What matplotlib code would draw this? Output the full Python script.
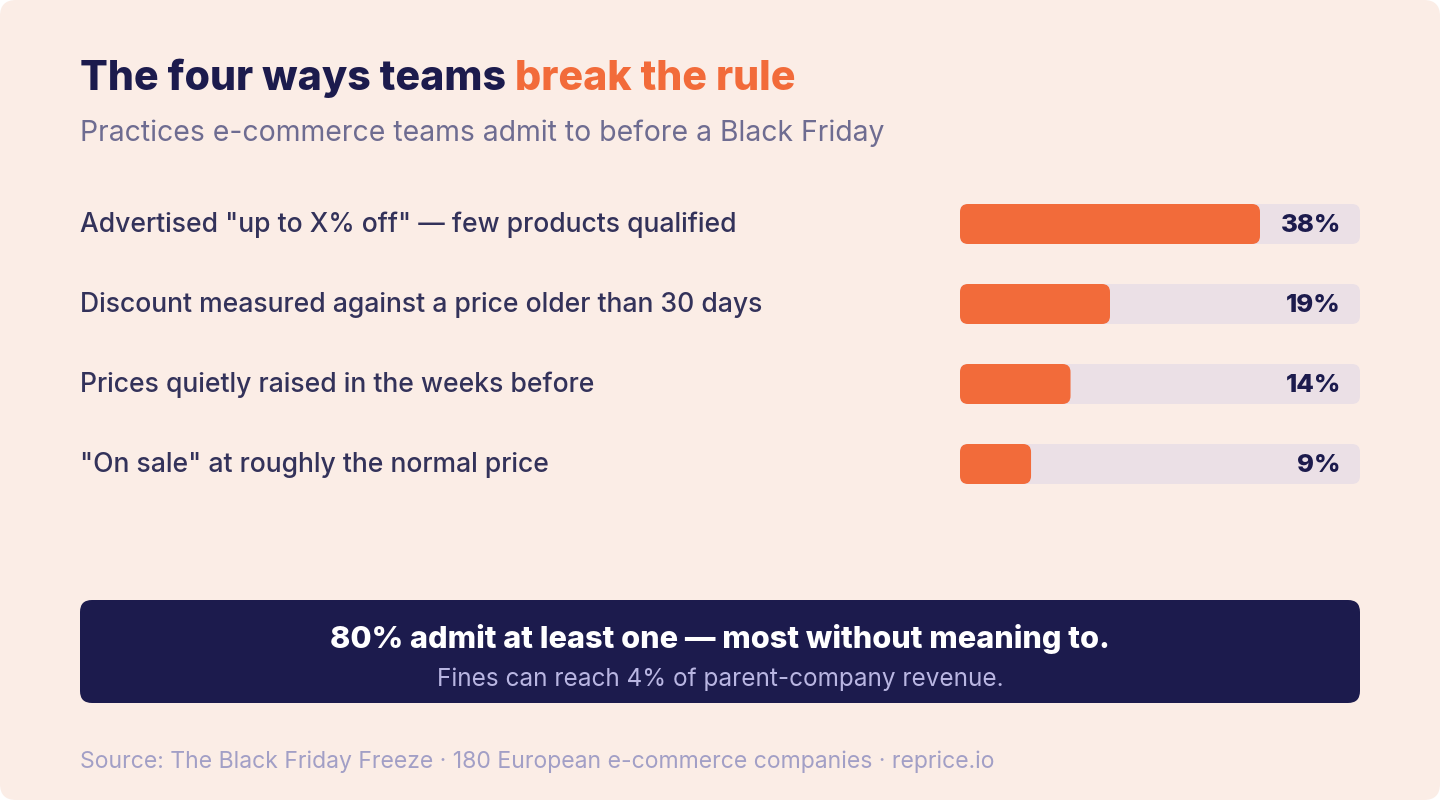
import matplotlib
matplotlib.use("Agg")
import matplotlib.pyplot as plt
from matplotlib.patches import FancyBboxPatch

# ---- data ----
categories = [
    'Advertised "up to X% off" \u2014 few products qualified',
    'Discount measured against a price older than 30 days',
    'Prices quietly raised in the weeks before',
    '"On sale" at roughly the normal price',
]
values = [38, 19, 14, 9]
value_labels = ["38%", "19%", "14%", "9%"]
title_a = "The four ways teams "
title_b = "break the rule"
subtitle = "Practices e-commerce teams admit to before a Black Friday"
callout_main = "80% admit at least one \u2014 most without meaning to."
callout_sub = "Fines can reach 4% of parent-company revenue."
source = "Source: The Black Friday Freeze \u00b7 180 European e-commerce companies \u00b7 reprice.io"

# ---- style ----
BG = "#FBEDE6"
NAVY = "#1C1B4D"
ORANGE = "#F26B3A"
TRACK = "#EBE0E6"
LABEL = "#33325A"
SUB = "#6E6C91"
SRC = "#A29FC6"
CALL_SUB = "#B9B6E2"
FONT = ["Inter", "DejaVu Sans"]

W, H = 1440, 800
fig = plt.figure(figsize=(W / 100, H / 100), dpi=100)
fig.patch.set_facecolor("white")

# layout axes in pixel coordinates
lay = fig.add_axes([0, 0, 1, 1])
lay.set_xlim(0, W)
lay.set_ylim(H, 0)
lay.axis("off")

card = FancyBboxPatch((0, 0), W, H, boxstyle="round,pad=0,rounding_size=16",
                      fc=BG, ec="none", zorder=0)
lay.add_patch(card)

fig.canvas.draw()
renderer = fig.canvas.get_renderer()


def fit(t, target):
    w = t.get_window_extent(renderer).width
    t.set_fontsize(t.get_fontsize() * target / w)
    return t


# title
t1 = lay.text(80, 90, title_a, color=NAVY, fontsize=30, fontweight="heavy",
              family=FONT, va="baseline", ha="left")
t2 = lay.text(80, 90, title_b, color=ORANGE, fontsize=30, fontweight="heavy",
              family=FONT, va="baseline", ha="left")
w1 = t1.get_window_extent(renderer).width
w2 = t2.get_window_extent(renderer).width
scale = 717 / (w1 + w2)
t1.set_fontsize(30 * scale)
t2.set_fontsize(30 * scale)
w1 = t1.get_window_extent(renderer).width
t2.set_x(80 + w1)

# subtitle
fit(lay.text(80, 141, subtitle, color=SUB, fontsize=18, family=FONT,
             va="baseline", ha="left"), 802)

# row labels
row_y = [222, 302, 382, 462]
lbls = []
for cat, y in zip(categories, row_y):
    lbls.append(lay.text(80, y + 10, cat, color=LABEL, fontsize=18,
                         fontweight="medium", family=FONT,
                         va="baseline", ha="left"))
w0 = lbls[0].get_window_extent(renderer).width
fs = 18 * 655 / w0
for l in lbls:
    l.set_fontsize(fs)

# ---- bar axes ----
x0, x1 = 960, 1360
y_top, y_bot = 184, 504
bx = fig.add_axes([x0 / W, 1 - y_bot / H, (x1 - x0) / W, (y_bot - y_top) / H])
bx.axis("off")
xmax = max(values) / 0.75
bx.set_xlim(0, xmax)
n = len(values)
bx.set_ylim(n - 0.5, -0.5)
px_per_x = (x1 - x0) / xmax
px_per_y = (y_bot - y_top) / n
bar_h = 40 / px_per_y
r = 8 / px_per_x
aspect = px_per_x / px_per_y

for i, (v, lab) in enumerate(zip(values, value_labels)):
    bx.add_patch(FancyBboxPatch((0, i - bar_h / 2), xmax, bar_h,
                                boxstyle=f"round,pad=0,rounding_size={r}",
                                mutation_aspect=aspect, fc=TRACK, ec="none"))
    bx.add_patch(FancyBboxPatch((0, i - bar_h / 2), v, bar_h,
                                boxstyle=f"round,pad=0,rounding_size={r}",
                                mutation_aspect=aspect, fc=ORANGE, ec="none"))
    bx.text(xmax - 19 / px_per_x, i + 0.02, lab, color=NAVY, fontsize=18.5,
            fontweight="heavy", family=FONT, ha="right", va="center")

# ---- callout box ----
lay.add_patch(FancyBboxPatch((80, 600), 1280, 103,
                             boxstyle="round,pad=0,rounding_size=12",
                             fc=NAVY, ec="none", zorder=1))
fit(lay.text(720, 648, callout_main, color="white", fontsize=20,
             fontweight="heavy", family=FONT, ha="center", va="baseline",
             zorder=2), 780)
fit(lay.text(720, 686, callout_sub, color=CALL_SUB, fontsize=15,
             family=FONT, ha="center", va="baseline", zorder=2), 567)

# source
fit(lay.text(80, 768, source, color=SRC, fontsize=15, family=FONT,
             ha="left", va="baseline"), 916)

fig.savefig("out.png", dpi=100, facecolor=fig.get_facecolor())
